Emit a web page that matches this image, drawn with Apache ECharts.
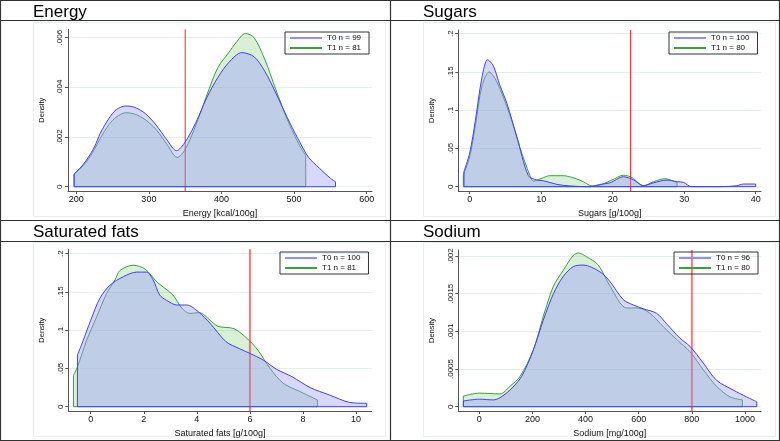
<!DOCTYPE html>
<html><head><meta charset="utf-8">
<script src="https://cdn.jsdelivr.net/npm/echarts@6/dist/echarts.min.js"></script>
<style>html,body{margin:0;padding:0;background:#fff}#c{width:780px;height:441px}</style>
</head><body><div id="c"></div>
<script>
// ---------------- DATA ----------------
const panelTitles = ['Energy', 'Sugars', 'Saturated fats', 'Sodium'];
const xAxisNames = ['Energy [kcal/100g]', 'Sugars [g/100g]', 'Saturated fats [g/100g]', 'Sodium [mg/100g]'];
const legendT0 = ['T0 n = 99', 'T0 n = 100', 'T0 n = 100', 'T0 n = 96'];
const legendT1 = ['T1 n = 81', 'T1 n = 80', 'T1 n = 81', 'T1 n = 80'];
const thresholds = [350, 22.5, 6, 800];

const energyXTicks = [200, 300, 400, 500, 600];
const sugarsXTicks = [0, 10, 20, 30, 40];
const satfatXTicks = [0, 2, 4, 6, 8, 10];
const sodiumXTicks = [0, 200, 400, 600, 800, 1000];
const energyYTicks = [0, 0.002, 0.004, 0.006];
const sugarsYTicks = [0, 0.05, 0.1, 0.15, 0.2];
const satfatYTicks = [0, 0.05, 0.1, 0.15, 0.2];
const sodiumYTicks = [0, 0.0005, 0.001, 0.0015, 0.002];

const energyT0x = [197, 205, 214, 225, 233, 245, 255, 268, 280, 295, 310, 325, 338, 350, 365, 380, 395, 410, 428, 445, 460, 475, 490, 505, 520, 535, 550, 557];
const energyT0y = [0.00052, 0.00074, 0.00107, 0.0016, 0.00215, 0.00275, 0.0031, 0.00325, 0.0032, 0.00295, 0.00248, 0.00188, 0.00145, 0.0018, 0.0026, 0.0036, 0.0044, 0.005, 0.0054, 0.00523, 0.00463, 0.00376, 0.00282, 0.00195, 0.00118, 0.00074, 0.00034, 0.0002];
const energyT1x = [197, 205, 214, 225, 233, 245, 255, 268, 280, 295, 310, 325, 339, 350, 365, 380, 395, 410, 420, 433, 445, 460, 475, 490, 505, 516];
const energyT1y = [0.0005, 0.00072, 0.001, 0.0015, 0.00195, 0.0025, 0.0028, 0.00298, 0.00293, 0.0027, 0.0023, 0.0017, 0.00118, 0.0015, 0.0025, 0.0037, 0.0048, 0.0054, 0.0058, 0.00617, 0.006, 0.0051, 0.0039, 0.00275, 0.0018, 0.00125];

const sugarsT0x = [-0.8, 0, 0.8, 1.7, 2.5, 3.3, 4.2, 5.2, 6.6, 8.2, 9.4, 10.3, 12.2, 14, 16.8, 18.2, 19.6, 21.5, 22.9, 24.3, 25.7, 27.6, 29, 29.9, 31, 35, 37.3, 38.3, 40];
const sugarsT0y = [0.02, 0.044, 0.087, 0.142, 0.166, 0.158, 0.133, 0.109, 0.065, 0.0144, 0.0087, 0.0078, 0.003, 0.001, 0, 0.003, 0.005, 0.013, 0.009, 0.0013, 0.005, 0.0087, 0.0065, 0.0057, 0, 0, 0.0013, 0.0035, 0.0035];
const sugarsT1x = [-0.9, 0, 0.8, 1.7, 2.7, 3.8, 5.6, 7.0, 8.4, 8.9, 10.1, 11.2, 13.1, 14.7, 15.9, 17.1, 18.2, 19.9, 21.5, 22.7, 24.3, 25.7, 27.3, 28.7, 29];
const sugarsT1y = [0.015, 0.039, 0.08, 0.131, 0.15, 0.137, 0.094, 0.052, 0.015, 0.0074, 0.011, 0.0144, 0.0144, 0.011, 0.0065, 0.001, 0.002, 0.0087, 0.015, 0.012, 0.0013, 0.0065, 0.0105, 0.0065, 0.006];

const satfatT0x = [-0.5, -0.3, 0, 0.35, 0.73, 1.23, 1.73, 2.1, 2.35, 2.6, 2.86, 3.24, 3.62, 4.06, 4.5, 5.1, 5.6, 6.0, 6.5, 7.0, 7.6, 8.27, 9.0, 9.77, 10.4];
const satfatT0y = [0.0675, 0.085, 0.113, 0.142, 0.159, 0.17, 0.176, 0.176, 0.166, 0.146, 0.139, 0.133, 0.133, 0.124, 0.109, 0.085, 0.076, 0.0697, 0.061, 0.049, 0.039, 0.025, 0.0153, 0.0055, 0.0044];
const satfatT1x = [-0.65, -0.5, -0.15, 0.23, 0.6, 0.92, 1.1, 1.6, 2.05, 2.5, 3.1, 3.43, 3.74, 4.1, 4.5, 4.8, 5.4, 5.9, 6.3, 6.76, 7.26, 7.9, 8.55];
const satfatT1y = [0.041, 0.052, 0.087, 0.118, 0.148, 0.166, 0.178, 0.185, 0.18, 0.163, 0.146, 0.129, 0.122, 0.123, 0.113, 0.105, 0.102, 0.089, 0.074, 0.05, 0.0305, 0.0196, 0.0087];

const sodiumT0x = [-60, 0, 53, 78, 115, 159, 203, 241, 279, 316, 354, 391, 454, 492, 542, 580, 617, 667, 705, 755, 793, 843, 893, 956, 1006, 1044];
const sodiumT0y = [0.000075, 0.0001, 0.00009, 0.00012, 0.00022, 0.0004, 0.00075, 0.00115, 0.0015, 0.00173, 0.00186, 0.00188, 0.00179, 0.00166, 0.00142, 0.00135, 0.0013, 0.00124, 0.0011, 0.00091, 0.0008, 0.00058, 0.00035, 0.00022, 0.00013, 0.000066];
const sodiumT1x = [-60, 0, 78, 115, 153, 203, 241, 279, 316, 354, 373, 404, 448, 492, 555, 598, 642, 693, 743, 793, 843, 893, 944, 990];
const sodiumT1y = [0.00014, 0.00018, 0.00017, 0.00027, 0.0004, 0.00075, 0.0012, 0.0016, 0.00181, 0.00201, 0.00204, 0.00199, 0.00188, 0.0016, 0.00131, 0.00131, 0.00124, 0.00106, 0.00089, 0.00073, 0.00049, 0.00027, 0.00013, 0.00009];

// ---------------- LAYOUT / STYLE ----------------
const FONT = 'Liberation Sans, Arial, sans-serif';
const xTicksAll = [energyXTicks, sugarsXTicks, satfatXTicks, sodiumXTicks];
const yTicksAll = [energyYTicks, sugarsYTicks, satfatYTicks, sodiumYTicks];
const T0 = [[energyT0x, energyT0y], [sugarsT0x, sugarsT0y], [satfatT0x, satfatT0y], [sodiumT0x, sodiumT0y]];
const T1 = [[energyT1x, energyT1y], [sugarsT1x, sugarsT1y], [satfatT1x, satfatT1y], [sodiumT1x, sodiumT1y]];

const grids = [
  {left: 68, top: 29.3, width: 304, height: 161.7},
  {left: 458.3, top: 30, width: 302.7, height: 161},
  {left: 68.3, top: 249.3, width: 303.4, height: 161.7},
  {left: 458.3, top: 250, width: 302.7, height: 161}
];
const xRanges = [[188.6, 607.3], [-1.594, 40.74], [-0.844, 10.59], [-79, 1060.2]];
const yRanges = [[-0.000173, 0.006338], [-0.00562, 0.2048], [-0.00562, 0.2058], [-0.0000571, 0.00208]];
const legendPos = [[285, 32], [669, 32], [280, 252], [674, 252]];
const titlePos = [[33, 4], [423, 4], [33, 224], [423, 224]];
const redStyle = [
  {color: '#ff2020', width: 1},
  {color: '#ff2020', width: 1},
  {color: 'rgba(255,60,60,0.7)', width: 2},
  {color: 'rgba(255,60,60,0.7)', width: 2}
];

const BLUE_LINE = '#3f3fff', BLUE_FILL = 'rgba(150,150,255,0.55)';
const GREEN_LINE = '#3c9f3c', GREEN_FILL = 'rgba(120,200,110,0.4)';

function pairs(xs, ys) { return xs.map((x, i) => [x, ys[i]]); }
function frame(xs, ys) {
  const n = xs.length - 1;
  return [[xs[0], ys[0]], [xs[0], 0], [xs[n], 0], [xs[n], ys[n]]];
}
function fmtY(v) { return v === 0 ? '0' : String(v).replace(/^0\./, '.'); }
function fmtX(v) { return String(v); }

const series = [], xAxis = [], yAxis = [], legend = [], title = [];
for (let i = 0; i < 4; i++) {
  xAxis.push({
    type: 'value', gridIndex: i, min: xRanges[i][0], max: xRanges[i][1],
    axisLine: {show: true, onZero: false, lineStyle: {color: '#555', width: 1}},
    axisTick: {show: true, length: 3, customValues: xTicksAll[i], lineStyle: {color: '#555'}},
    axisLabel: {customValues: xTicksAll[i], fontSize: 9, margin: 4, color: '#111', fontFamily: FONT, formatter: fmtX},
    splitLine: {show: false},
    axisPointer: {show: false},
    name: xAxisNames[i], nameLocation: 'middle', nameGap: 18,
    nameTextStyle: {fontSize: 9, color: '#111', fontFamily: FONT}
  });
  yAxis.push({
    type: 'value', gridIndex: i, min: yRanges[i][0], max: yRanges[i][1],
    axisLine: {show: true, onZero: false, lineStyle: {color: '#555', width: 1}},
    axisTick: {show: true, length: 3, customValues: yTicksAll[i], lineStyle: {color: '#555'}},
    axisLabel: {customValues: yTicksAll[i], rotate: 90, fontSize: 8, margin: 4, color: '#111', fontFamily: FONT, formatter: fmtY},
    splitLine: {show: true, lineStyle: {color: '#e3eef0', width: 1}},
    name: 'Density', nameLocation: 'middle', nameGap: 22, nameRotate: 90,
    nameTextStyle: {fontSize: 7.5, color: '#111', fontFamily: FONT}
  });
  // T1 (green)
  series.push({
    name: legendT1[i], type: 'line', xAxisIndex: i, yAxisIndex: i, z: 2,
    data: pairs(T1[i][0], T1[i][1]), smooth: 0.3, symbol: 'none',
    lineStyle: {color: GREEN_LINE, width: 1}, itemStyle: {color: GREEN_LINE},
    areaStyle: {color: GREEN_FILL}
  });
  series.push({
    name: 'frame1_' + i, type: 'line', xAxisIndex: i, yAxisIndex: i, z: 2,
    data: frame(T1[i][0], T1[i][1]), symbol: 'none', silent: true,
    lineStyle: {color: GREEN_LINE, width: 1}
  });
  // red threshold line, spanning the full y range, beneath the blue fill
  series.push({
    name: 'threshold_' + i, type: 'line', xAxisIndex: i, yAxisIndex: i, z: 2,
    data: [[thresholds[i], yRanges[i][0]], [thresholds[i], yRanges[i][1]]],
    symbol: 'none', silent: true,
    lineStyle: Object.assign({type: 'solid'}, redStyle[i]), itemStyle: {color: redStyle[i].color}
  });
  // T0 (blue)
  series.push({
    name: legendT0[i], type: 'line', xAxisIndex: i, yAxisIndex: i, z: 3,
    data: pairs(T0[i][0], T0[i][1]), smooth: 0.3, symbol: 'none',
    lineStyle: {color: BLUE_LINE, width: 1}, itemStyle: {color: BLUE_LINE},
    areaStyle: {color: BLUE_FILL}
  });
  series.push({
    name: 'frame0_' + i, type: 'line', xAxisIndex: i, yAxisIndex: i, z: 3,
    data: frame(T0[i][0], T0[i][1]), symbol: 'none', silent: true,
    lineStyle: {color: BLUE_LINE, width: 1}
  });
  legend.push({
    orient: 'vertical', left: legendPos[i][0], top: legendPos[i][1],
    data: [
      {name: legendT0[i], icon: 'rect', itemStyle: {color: '#8f8fff'}},
      {name: legendT1[i], icon: 'rect', itemStyle: {color: '#3c9f3c'}}
    ],
    itemWidth: 32, itemHeight: 2, itemGap: 0, padding: [1, 8, 1, 5],
    borderColor: '#333', borderWidth: 1, selectedMode: false,
    textStyle: {fontSize: 8, lineHeight: 10, color: '#111', fontFamily: FONT}
  });
  title.push({
    text: panelTitles[i], left: titlePos[i][0], top: titlePos[i][1], padding: 0,
    textStyle: {fontSize: 17, fontWeight: 'normal', color: '#000', fontFamily: FONT}
  });
}

const LC = '#333';
const graphic = [
  {type: 'rect', shape: {x: 33.5, y: 22.5, width: 352, height: 194}, style: {fill: 'none', stroke: '#e6eff0', lineWidth: 1}, z: -1, silent: true},
  {type: 'rect', shape: {x: 423.5, y: 22.5, width: 352, height: 194}, style: {fill: 'none', stroke: '#e6eff0', lineWidth: 1}, z: -1, silent: true},
  {type: 'rect', shape: {x: 33.5, y: 242.5, width: 352, height: 194}, style: {fill: 'none', stroke: '#e6eff0', lineWidth: 1}, z: -1, silent: true},
  {type: 'rect', shape: {x: 423.5, y: 242.5, width: 352, height: 194}, style: {fill: 'none', stroke: '#e6eff0', lineWidth: 1}, z: -1, silent: true},
  {type: 'rect', shape: {x: 0.5, y: 0.5, width: 779, height: 440}, style: {fill: 'none', stroke: LC, lineWidth: 1.2}, silent: true},
  {type: 'line', shape: {x1: 0, y1: 20.5, x2: 780, y2: 20.5}, style: {stroke: LC, lineWidth: 1.2}, silent: true},
  {type: 'line', shape: {x1: 0, y1: 220.5, x2: 780, y2: 220.5}, style: {stroke: LC, lineWidth: 1.2}, silent: true},
  {type: 'line', shape: {x1: 0, y1: 241.5, x2: 780, y2: 241.5}, style: {stroke: LC, lineWidth: 1.2}, silent: true},
  {type: 'line', shape: {x1: 390.5, y1: 0, x2: 390.5, y2: 441}, style: {stroke: LC, lineWidth: 1.2}, silent: true}
];

const chart = echarts.init(document.getElementById('c'), null, {renderer: 'canvas'});
chart.setOption({
  animation: false,
  backgroundColor: '#fff',
  tooltip: {show: false},
  title, legend, grid: grids, xAxis, yAxis, series, graphic
});
</script></body></html>
